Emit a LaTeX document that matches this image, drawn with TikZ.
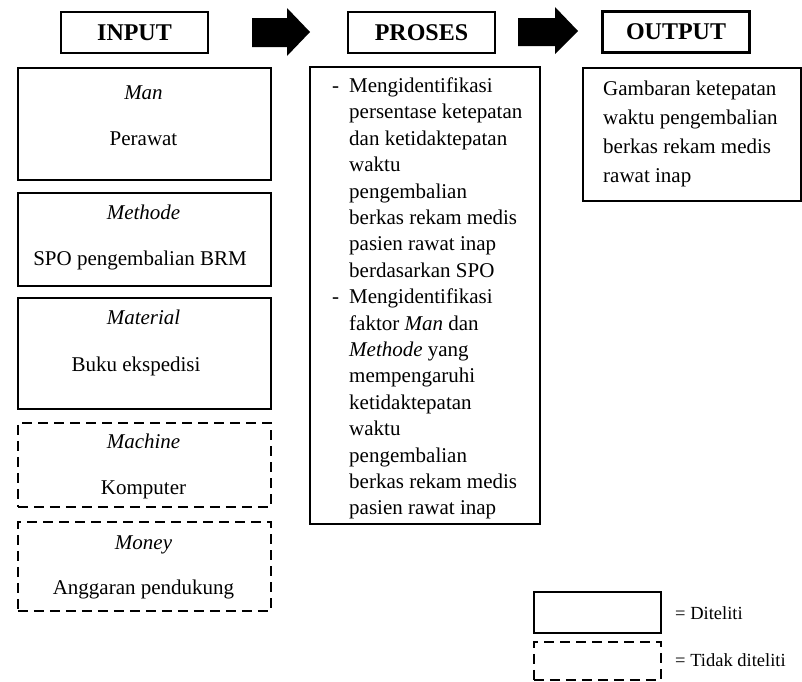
\documentclass[tikz,border=0pt]{standalone}
\usepackage{fontspec}
\setmainfont{Liberation Serif}
\begin{document}
\begin{tikzpicture}[x=1pt,y=-1pt]
\tikzstyle{hd}=[draw, line width=2.4pt, minimum width=147pt, minimum height=41pt, inner sep=0pt, font=\fontsize{24}{28}\selectfont\bfseries]
\tikzstyle{box}=[draw, line width=1.9pt, inner sep=0pt, anchor=north west]
\tikzstyle{nd}=[box, dash pattern=on 10pt off 6pt]
\tikzstyle{tx}=[inner sep=0pt, anchor=base, font=\fontsize{21}{26}\selectfont]
\tikzstyle{ti}=[tx, font=\fontsize{21}{26}\selectfont\itshape]
\tikzstyle{lg}=[inner sep=0pt, anchor=west, font=\fontsize{18.5}{22}\selectfont]
\useasboundingbox (0,0) rectangle (802,681);

% headers
\node[hd] (inp) at (134.5,32.5) {INPUT};
\node[hd] (pro) at (421.5,32.5) {PROSES};
\node[hd] (out) at (676,32) {OUTPUT};

% block arrows
\fill (252,18) -- (287,18) -- (287,8) -- (310,32) -- (287,56) -- (287,47) -- (252,47) -- cycle;
\fill (518,18) -- (555,18) -- (555,7) -- (578,31) -- (555,54) -- (555,46) -- (518,46) -- cycle;

% input
\node[box, minimum width=253pt, minimum height=112pt] (man) at (17,67) {};
\node[ti] (manL) at (143.5,99) {Man};
\node[tx] (manT) at (143.5,145) {Perawat};

\node[box, minimum width=253pt, minimum height=93pt] (met) at (17,192) {};
\node[ti] (metL) at (143.5,219) {Methode};
\node[tx] (metT) at (140,265) {SPO pengembalian BRM};

\node[box, minimum width=253pt, minimum height=111pt] (mat) at (17,297) {};
\node[ti] (matL) at (143.5,324) {Material};
\node[tx] (matT) at (136,371) {Buku ekspedisi};

\node[nd, minimum width=253pt, minimum height=84pt] (mac) at (17,422) {};
\node[ti] (macL) at (143.5,448) {Machine};
\node[tx] (macT) at (143.5,494) {Komputer};

\node[nd, minimum width=253pt, minimum height=89pt] (mon) at (17,521) {};
\node[ti] (monL) at (143.5,549) {Money};
\node[tx] (monT) at (143.5,594) {Anggaran pendukung};

% proses
\node[box, minimum width=230pt, minimum height=457pt] (prb) at (309,66) {};
\node[inner sep=0pt, anchor=north west, align=left, font=\fontsize{21}{26.4}\selectfont] (prT) at (349,77.5) {%
\llap{-\hspace{10pt}}Mengidentifikasi\\
persentase ketepatan\\
dan ketidaktepatan\\
waktu\\
pengembalian\\
berkas rekam medis\\
pasien rawat inap\\
berdasarkan SPO\\
\llap{-\hspace{10pt}}Mengidentifikasi\\
faktor \textit{Man} dan\\
\textit{Methode} yang\\
mempengaruhi\\
ketidaktepatan\\
waktu\\
pengembalian\\
berkas rekam medis\\
pasien rawat inap};

% output
\node[box, minimum width=218pt, minimum height=133pt] (oub) at (582,67) {};
\node[inner sep=0pt, anchor=north west, align=left, font=\fontsize{21}{29}\selectfont] (ouT) at (603,80.5) {%
Gambaran ketepatan\\
waktu pengembalian\\
berkas rekam medis\\
rawat inap};

% legend
\node[box, minimum width=127pt, minimum height=41pt] (lg1) at (533,591) {};
\node[nd, minimum width=127pt, minimum height=38pt] (lg2) at (533,641) {};
\node[lg] (lg1T) at (675,613) {= Diteliti};
\node[lg] (lg2T) at (675,660) {= Tidak diteliti};
\end{tikzpicture}
\end{document}
